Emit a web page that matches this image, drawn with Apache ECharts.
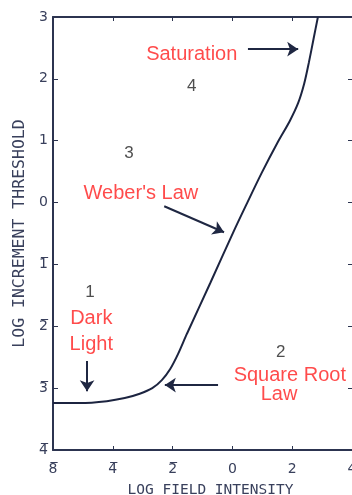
<!DOCTYPE html>
<html>
<head>
<meta charset="utf-8">
<script src="https://cdn.jsdelivr.net/npm/echarts@6/dist/echarts.min.js"></script>
<style>
  html, body { margin: 0; padding: 0; background: #ffffff; }
  #chart { width: 352px; height: 495px; }
</style>
</head>
<body>
<div id="chart"></div>
<script>
// Tick labels (negative logs written with an overbar)
const xTickLabels = ['8\u0305', '4\u0305', '2\u0305', '0', '2', '4'];
const yTickValues = [-4, -3, -2, -1, 0, 1, 2, 3];

// Threshold-versus-intensity curve (x in tick steps, y in log units)
const curveX = [0, 0.45, 0.90, 1.20, 1.45, 1.66, 1.82, 1.96, 2.09, 2.24, 2.63, 3.01, 3.24, 3.49, 3.76, 3.96, 4.10, 4.20, 4.28, 4.36, 4.43];
const curveY = [-3.24, -3.24, -3.21, -3.16, -3.09, -3.00, -2.87, -2.69, -2.45, -2.12, -1.30, -0.49, -0.02, 0.48, 0.98, 1.32, 1.61, 1.92, 2.27, 2.66, 3.00];

// Region numbers
const regionNames = ['4', '3', '1', '2'];
const regionX = [2.32, 1.27, 0.62, 3.81];
const regionY = [1.88, 0.80, -1.45, -2.42];

// Red annotations
const noteNames = ['Saturation', "Weber's Law", 'Dark', 'Light', 'Square Root', 'Law'];
const noteX = [2.32, 1.47, 0.64, 0.64, 3.96, 3.78];
const noteY = [2.39, 0.14, -1.87, -2.29, -2.79, -3.11];

// Pointer arrows: start and end
const arrowFromX = [3.26, 1.86, 0.57, 2.76];
const arrowFromY = [2.48, -0.06, -2.56, -2.95];
const arrowToX = [4.10, 2.86, 0.57, 1.87];
const arrowToY = [2.48, -0.48, -3.05, -2.95];

const axisColor = '#2c3450';
const tickFont = { fontFamily: 'DejaVu Sans', fontSize: 14, color: '#39405c' };

const chart = echarts.init(document.getElementById('chart'), null, { renderer: 'canvas' });

const curveData = curveX.map((x, i) => [x, curveY[i]]);
const regionData = regionX.map((x, i) => [x, regionY[i], regionNames[i]]);
const noteData = noteX.map((x, i) => [x, noteY[i], noteNames[i]]);
const arrowData = arrowFromX.map((x, i) => [
  { coord: [x, arrowFromY[i]] },
  { coord: [arrowToX[i], arrowToY[i]] }
]);

chart.setOption({
  animation: false,
  backgroundColor: '#ffffff',
  grid: { left: 53, right: 0, top: 17, bottom: 45, containLabel: false, outerBoundsMode: 'none' },
  xAxis: [
    {
      type: 'value', min: 0, max: 5, interval: 1, position: 'bottom',
      name: 'LOG FIELD INTENSITY', nameLocation: 'middle', nameGap: 33,
      nameTextStyle: { fontFamily: 'DejaVu Sans Mono', fontSize: 14.5, color: '#39405c', padding: [0, 0, 0, 16] },
      axisLine: { show: true, onZero: false, lineStyle: { color: axisColor, width: 2 } },
      axisTick: { show: true, inside: true, length: 4, lineStyle: { color: axisColor } },
      axisLabel: { ...tickFont, margin: 12, formatter: v => xTickLabels[Math.round(v)] },
      splitLine: { show: false }
    },
    {
      type: 'value', min: 0, max: 5, interval: 1, position: 'top',
      axisLine: { show: true, onZero: false, lineStyle: { color: axisColor, width: 2 } },
      axisTick: { show: true, inside: true, length: 4, lineStyle: { color: axisColor } },
      axisLabel: { show: false },
      splitLine: { show: false }
    }
  ],
  yAxis: [
    {
      type: 'value', min: yTickValues[0], max: yTickValues[yTickValues.length - 1], interval: 1, position: 'left',
      name: 'LOG INCREMENT THRESHOLD', nameLocation: 'middle', nameGap: 22,
      nameTextStyle: { fontFamily: 'DejaVu Sans Mono', fontSize: 16.5, color: '#39405c' },
      axisLine: { show: true, onZero: false, lineStyle: { color: axisColor, width: 2 } },
      axisTick: { show: true, inside: true, length: 5, lineStyle: { color: axisColor } },
      axisLabel: {
        ...tickFont, margin: 5,
        formatter: v => (v < 0 ? Math.abs(v) + '\u0305' : String(v))
      },
      splitLine: { show: false }
    },
    {
      type: 'value', min: yTickValues[0], max: yTickValues[yTickValues.length - 1], interval: 1, position: 'right',
      axisLine: { show: false, onZero: false },
      axisTick: { show: true, inside: true, length: 4, lineStyle: { color: axisColor } },
      axisLabel: { show: false },
      splitLine: { show: false }
    }
  ],
  series: [
    {
      type: 'line',
      data: curveData,
      smooth: 0.3,
      showSymbol: false,
      lineStyle: { color: '#1c2440', width: 2 },
      markLine: {
        silent: true,
        symbol: ['none', 'arrow'],
        symbolSize: 11,
        label: { show: false },
        lineStyle: { color: '#1f2742', width: 2, type: 'solid' },
        data: arrowData
      }
    },
    {
      type: 'scatter',
      data: regionData,
      symbolSize: 0,
      label: {
        show: true, position: 'inside',
        formatter: p => p.data[2],
        fontFamily: 'Liberation Sans', fontSize: 17, color: '#222222'
      }
    },
    {
      type: 'scatter',
      data: noteData,
      symbolSize: 0,
      label: {
        show: true, position: 'inside',
        formatter: p => p.data[2],
        fontFamily: 'Liberation Sans', fontSize: 20, color: '#ff1e1e'
      }
    }
  ]
});
</script>
</body>
</html>
